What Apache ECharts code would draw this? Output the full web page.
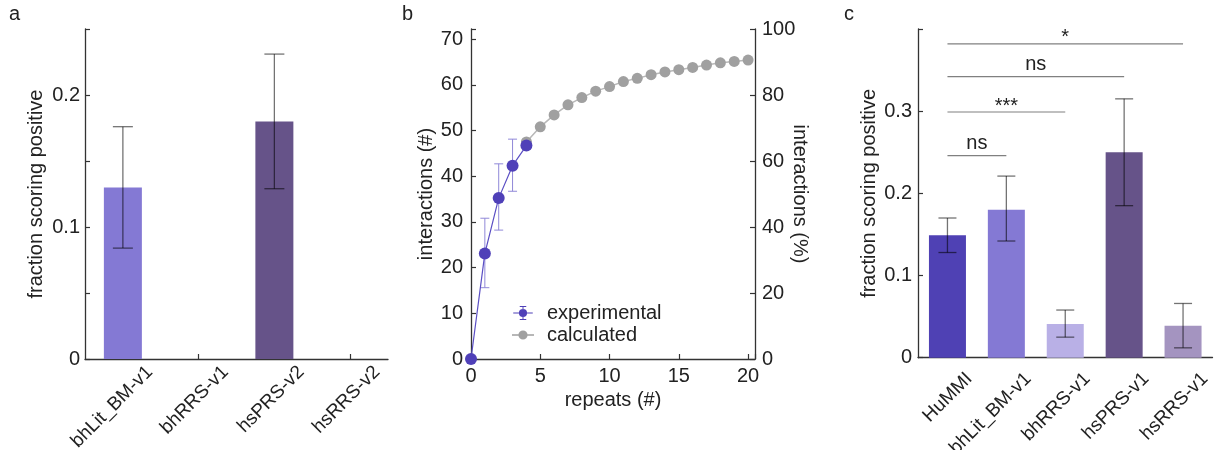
<!DOCTYPE html>
<html>
<head>
<meta charset="utf-8">
<script src="https://cdn.jsdelivr.net/npm/echarts@6.0.0/dist/echarts.min.js"></script>
<style>
  html, body { margin: 0; padding: 0; background: #fff; }
  #chart { width: 1217px; height: 450px; }
</style>
</head>
<body>
<div id="chart"></div>
<script>
// panel a
const catsA = ['bhLit_BM-v1', 'bhRRS-v1', 'hsPRS-v2', 'hsRRS-v2']
const valsA = [0.13, 0, 0.18, 0]
const errLowA = [0.084, null, 0.129, null]
const errHighA = [0.176, null, 0.231, null]
const colorsA = ['#8479d4', '#8479d4', '#665389', '#665389']
const yTicksA = [0, 0.1, 0.2]

// panel b
const repeatsExp = [0, 1, 2, 3, 4]
const interExp = [0, 23.1, 35.2, 42.3, 46.7]
const interExpLow = [0, 15.6, 28.2, 36.7, 46.7]
const interExpHigh = [0, 30.8, 42.7, 48.1, 46.7]
const repeatsCalc = [4, 5, 6, 7, 8, 9, 10, 11, 12, 13, 14, 15, 16, 17, 18, 19, 20]
const interCalc = [47.5, 50.8, 53.4, 55.6, 57.2, 58.6, 59.6, 60.7, 61.4, 62.2, 62.8, 63.3, 63.8, 64.3, 64.8, 65.1, 65.4]
const xTicksB = [0, 5, 10, 15, 20]
const yTicksB = [0, 10, 20, 30, 40, 50, 60, 70]
const yTicksPct = [0, 20, 40, 60, 80, 100]

// panel c
const catsC = ['HuMMI', 'bhLit_BM-v1', 'bhRRS-v1', 'hsPRS-v1', 'hsRRS-v1']
const valsC = [0.149, 0.18, 0.041, 0.25, 0.039]
const errLowC = [0.128, 0.142, 0.025, 0.185, 0.012]
const errHighC = [0.17, 0.221, 0.058, 0.315, 0.066]
const colorsC = ['#4f41b4', '#8479d4', '#b9b0e6', '#665389', '#a494c0']
const yTicksC = [0, 0.1, 0.2, 0.3]
const sigPairs = [[0, 4], [0, 3], [0, 2], [0, 1]]
const sigLevel = [0.382, 0.342, 0.299, 0.246]
const sigText = ['*', 'ns', '***', 'ns']

const FONT = 'Liberation Sans, Arial, sans-serif'
const FS = 20
const txt = '#222'
const axisLine = { show: true, lineStyle: { color: '#333', width: 1.3 } }
const axisTick = { show: true, inside: true, length: 5, lineStyle: { color: '#333', width: 1.2 } }

function tickFmt(list) {
  return v => list.some(t => Math.abs(t - v) < 1e-6) ? String(+v.toFixed(2)) : ''
}

function errorBar(capW, color, width) {
  return function (params, api) {
    const x = api.value(0)
    const lo = api.coord([x, api.value(1)])
    const hi = api.coord([x, api.value(2)])
    const h = capW / 2
    const st = () => ({ stroke: color, lineWidth: width })
    return {
      type: 'group',
      children: [
        { type: 'line', shape: { x1: lo[0], y1: hi[1], x2: lo[0], y2: lo[1] }, style: st() },
        { type: 'line', shape: { x1: lo[0] - h, y1: hi[1], x2: lo[0] + h, y2: hi[1] }, style: st() },
        { type: 'line', shape: { x1: lo[0] - h, y1: lo[1], x2: lo[0] + h, y2: lo[1] }, style: st() }
      ]
    }
  }
}

function errData(lows, highs, xs) {
  return lows.map((l, i) => [xs ? xs[i] : i, l, highs[i]]).filter(d => d[1] != null && d[1] !== d[2])
}

const expIcon = 'path://M0,9.3H24V10.7H0Z M7,10A5,5 0 1,1 17,10A5,5 0 1,1 7,10Z M11.4,2H12.6V18H11.4Z M8,1.4H16V2.6H8Z M8,17.4H16V18.6H8Z'
const calcIcon = 'path://M0,9.3H24V10.7H0Z M7,10A5,5 0 1,1 17,10A5,5 0 1,1 7,10Z'

const panelTitle = (t, left) => ({ text: t, left: left, top: 4, padding: 0,
  textStyle: { fontSize: FS, fontWeight: 'normal', color: txt, fontFamily: FONT } })

const chart = echarts.init(document.getElementById('chart'), null, { renderer: 'canvas' })
chart.setOption({
  animation: false,
  textStyle: { fontFamily: FONT },
  title: [panelTitle('a', 9), panelTitle('b', 402), panelTitle('c', 844)],
  legend: {
    left: 512, top: 303, orient: 'vertical', padding: 0,
    itemWidth: 22, itemHeight: 14, itemGap: 2,
    textStyle: { fontSize: FS, color: txt, fontFamily: FONT, lineHeight: 18, padding: [0, 0, 0, 8] },
    data: [{ name: 'experimental', icon: expIcon }, { name: 'calculated', icon: calcIcon }]
  },
  grid: [
    { left: 85, top: 29, width: 303, height: 330, containLabel: false, outerBoundsMode: 'none' },
    { left: 471, top: 29, width: 284, height: 330, containLabel: false, outerBoundsMode: 'none' },
    { left: 918, top: 29, width: 294.5, height: 328.7, containLabel: false, outerBoundsMode: 'none' }
  ],
  xAxis: [
    {
      gridIndex: 0, type: 'category', data: catsA,
      axisLine, axisTick: Object.assign({ alignWithLabel: true }, axisTick),
      axisLabel: { rotate: 45, margin: 37, padding: [0, -38, 0, 0], fontSize: 19, color: txt, interval: 0 },
      splitLine: { show: false }
    },
    {
      gridIndex: 1, type: 'value', min: 0, max: 20.5, interval: 5,
      axisLine, axisTick,
      axisLabel: { fontSize: FS, color: txt, margin: 7, formatter: tickFmt(xTicksB) },
      splitLine: { show: false },
      name: 'repeats (#)', nameLocation: 'middle', nameGap: 29,
      nameTextStyle: { fontSize: FS, color: txt }
    },
    {
      gridIndex: 2, type: 'category', data: catsC,
      axisLine, axisTick: Object.assign({ alignWithLabel: true }, axisTick),
      axisLabel: { rotate: 45, margin: 40, padding: [0, -31, 0, 0], fontSize: 19, color: txt, interval: 0 },
      splitLine: { show: false }
    }
  ],
  yAxis: [
    {
      gridIndex: 0, type: 'value', min: 0, max: 0.25, interval: 0.05,
      axisLine, axisTick,
      axisLabel: { fontSize: FS, color: txt, margin: 5, formatter: tickFmt(yTicksA) },
      splitLine: { show: false },
      name: 'fraction scoring positive', nameLocation: 'middle', nameGap: 39,
      nameTextStyle: { fontSize: FS, color: txt }
    },
    {
      gridIndex: 1, type: 'value', min: 0, max: 72.2, interval: 10,
      axisLine, axisTick,
      axisLabel: { fontSize: FS, color: txt, margin: 8, formatter: tickFmt(yTicksB) },
      splitLine: { show: false },
      name: 'interactions (#)', nameLocation: 'middle', nameGap: 34,
      nameTextStyle: { fontSize: FS, color: txt }
    },
    {
      gridIndex: 1, type: 'value', position: 'right', min: 0, max: 100, interval: 20,
      axisLine, axisTick,
      axisLabel: { fontSize: FS, color: txt, margin: 7, formatter: tickFmt(yTicksPct) },
      splitLine: { show: false },
      name: 'interactions (%)', nameLocation: 'middle', nameGap: 35, nameRotate: -90,
      nameMoveOverlap: false,
      nameTextStyle: { fontSize: FS, color: txt }
    },
    {
      gridIndex: 2, type: 'value', min: 0, max: 0.4, interval: 0.1,
      axisLine, axisTick,
      axisLabel: { fontSize: FS, color: txt, margin: 6, formatter: tickFmt(yTicksC) },
      splitLine: { show: false },
      name: 'fraction scoring positive', nameLocation: 'middle', nameGap: 39,
      nameTextStyle: { fontSize: FS, color: txt }
    }
  ],
  series: [
    {
      type: 'bar', xAxisIndex: 0, yAxisIndex: 0, barWidth: 38,
      data: valsA.map((v, i) => ({ value: v, itemStyle: { color: colorsA[i] } }))
    },
    {
      type: 'custom', xAxisIndex: 0, yAxisIndex: 0, z: 5,
      renderItem: errorBar(20, 'rgba(0,0,0,0.55)', 1.3),
      encode: { x: 0, y: [1, 2] },
      data: errData(errLowA, errHighA)
    },
    {
      name: 'calculated', type: 'line', xAxisIndex: 1, yAxisIndex: 1,
      symbol: 'circle', symbolSize: 11,
      itemStyle: { color: '#a0a0a0' },
      lineStyle: { color: '#b8b8b8', width: 1.5 },
      data: repeatsCalc.map((x, i) => [x, interCalc[i]])
    },
    {
      type: 'custom', xAxisIndex: 1, yAxisIndex: 1, z: 3,
      renderItem: errorBar(9, '#9088d8', 1),
      encode: { x: 0, y: [1, 2] },
      data: errData(interExpLow, interExpHigh, repeatsExp)
    },
    {
      name: 'experimental', type: 'line', xAxisIndex: 1, yAxisIndex: 1, z: 4,
      symbol: 'circle', symbolSize: 12, clip: false,
      itemStyle: { color: '#4f40b8' },
      lineStyle: { color: '#5a4ec4', width: 1.2 },
      data: repeatsExp.map((x, i) => [x, interExp[i]])
    },
    {
      type: 'bar', xAxisIndex: 2, yAxisIndex: 3, barWidth: 37,
      data: valsC.map((v, i) => ({ value: v, itemStyle: { color: colorsC[i] } }))
    },
    {
      type: 'custom', xAxisIndex: 2, yAxisIndex: 3, z: 5,
      renderItem: errorBar(18, 'rgba(0,0,0,0.55)', 1.3),
      encode: { x: 0, y: [1, 2] },
      data: errData(errLowC, errHighC)
    },
    {
      type: 'custom', xAxisIndex: 2, yAxisIndex: 3, z: 5,
      encode: { x: [0, 1], y: 2 },
      data: sigPairs.map((p, i) => [p[0], p[1], sigLevel[i]]),
      renderItem: function (params, api) {
        const a = api.coord([api.value(0), api.value(2)])
        const b = api.coord([api.value(1), api.value(2)])
        const t = sigText[params.dataIndex]
        const dy = t.indexOf('*') >= 0 ? 6 : 12
        return {
          type: 'group',
          children: [
            { type: 'line', shape: { x1: a[0], y1: a[1], x2: b[0], y2: b[1] }, style: { stroke: '#808080', lineWidth: 1.2 } },
            { type: 'text', x: (a[0] + b[0]) / 2, y: a[1] - dy,
              style: { text: t, fill: txt, font: FS + 'px ' + FONT, align: 'center', verticalAlign: 'middle' } }
          ]
        }
      }
    }
  ]
})
</script>
</body>
</html>
